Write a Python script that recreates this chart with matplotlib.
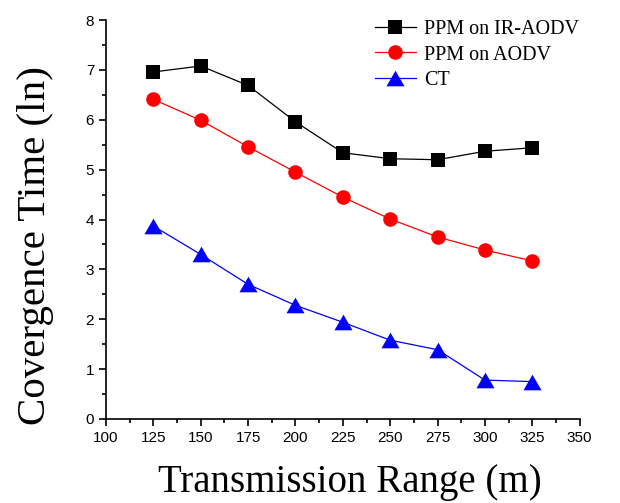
import matplotlib
matplotlib.use('Agg')
import matplotlib.pyplot as plt
from matplotlib.ticker import MultipleLocator

ranges = [125, 150, 175, 200, 225, 250, 275, 300, 325]
ppm_ir_aodv = [6.96, 7.08, 6.69, 5.96, 5.34, 5.22, 5.20, 5.37, 5.44]
ppm_aodv = [6.41, 5.99, 5.46, 4.95, 4.45, 4.01, 3.65, 3.39, 3.17]
ct = [3.87, 3.30, 2.70, 2.28, 1.94, 1.58, 1.39, 0.78, 0.75]

# equilateral triangle, centred on its bounding box
tri = [(-1, -0.866), (1, -0.866), (0, 0.866)]

fig = plt.figure(figsize=(6.2, 5.03), dpi=100)
ax = fig.add_axes([0.171, 0.167, 0.764, 0.793])

ax.plot(ranges, ppm_ir_aodv, color='black', lw=0.9, marker='s', ms=9.5,
        mew=0, label='PPM on IR-AODV')
ax.plot(ranges, ppm_aodv, color='red', lw=0.9, marker='o', ms=10.5,
        mew=0, label='PPM on AODV')
ax.plot(ranges, ct, color='blue', lw=0.9, marker=tri, ms=13,
        mew=0, label='CT')

ax.set_xlim(100, 350)
ax.set_ylim(0, 8)
ax.xaxis.set_major_locator(MultipleLocator(25))
ax.xaxis.set_minor_locator(MultipleLocator(12.5))
ax.yaxis.set_major_locator(MultipleLocator(1))
ax.yaxis.set_minor_locator(MultipleLocator(0.5))
for s in ['top', 'right']:
    ax.spines[s].set_visible(False)
for s in ['left', 'bottom']:
    ax.spines[s].set_linewidth(1.2)
ax.tick_params(which='major', direction='out', length=5, width=1.2,
               labelsize=11)
ax.tick_params(which='minor', direction='out', length=3, width=1.2)
for lab in ax.get_xticklabels() + ax.get_yticklabels():
    lab.set_family('Liberation Sans')

ax.set_xlabel('Transmission Range (m)', family='Liberation Serif',
              fontsize=28)
ax.set_ylabel('Covergence Time (ln)', family='Liberation Serif',
              fontsize=29.5)
ax.xaxis.set_label_coords(0.515, -0.16)
ax.xaxis.label.set_va('center')
ax.yaxis.set_label_coords(-0.148, 0.434)
ax.yaxis.label.set_va('center')

ax.legend(loc='upper right', bbox_to_anchor=(1.036, 1.045), frameon=False,
          prop={'family': 'Liberation Serif', 'size': 14.5},
          handlelength=2.0, handletextpad=0.4, labelspacing=0.3)

fig.savefig('out.png', dpi=100)
